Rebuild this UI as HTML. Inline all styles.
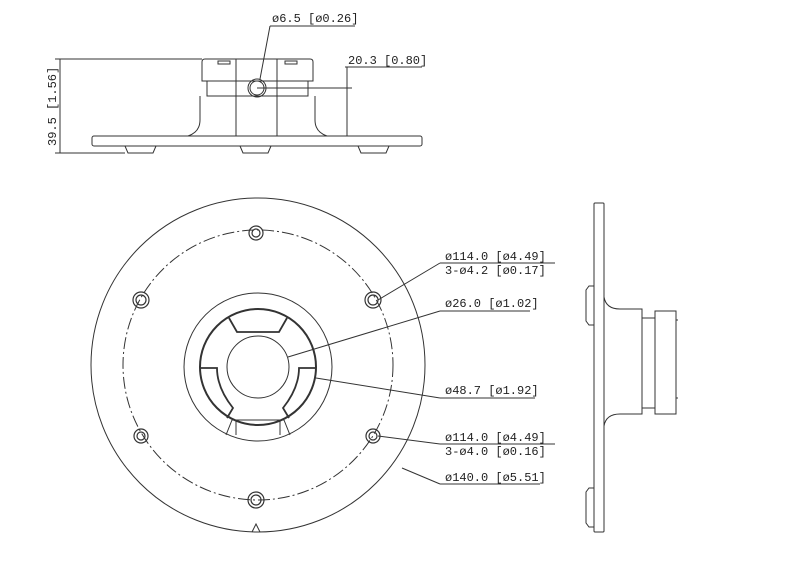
<!DOCTYPE html><html><head><style>body{margin:0;background:#fff}svg text{font-family:"Liberation Mono",monospace;font-size:12px;fill:#222}</style></head><body>
<svg width="787" height="579" viewBox="0 0 787 579" fill="none" stroke="#333" stroke-width="1">
<!-- top view -->
<line x1="55" y1="59" x2="202" y2="59"/><line x1="55" y1="153" x2="125" y2="153"/>
<line x1="60" y1="59" x2="60" y2="153"/>
<text transform="translate(56,146) rotate(-90)" stroke="none">39.5 [1.56]</text>
<rect x="92" y="136" width="330" height="10" rx="2"/>
<path d="M125 146 l3 7 h25 l3 -7 M240 146 l3 7 h25 l3 -7 M358 146 l3 7 h25 l3 -7"/>
<path d="M202 81 V62 q0 -3 3 -3 h105 q3 0 3 3 V81 Z"/>
<path d="M207 81 V96 H308 V81"/>
<path d="M200 96 V120 q0 12 -12 16 M315 96 V120 q0 12 12 16"/>
<line x1="236" y1="59" x2="236" y2="136"/><line x1="277" y1="59" x2="277" y2="136"/>
<path d="M218 61 h12 v3 h-12z M285 61 h12 v3 h-12z"/>
<circle cx="257" cy="88" r="9"/><circle cx="257" cy="88" r="7"/>
<text x="272" y="22" stroke="none">ø6.5 [ø0.26]</text>
<path d="M270 26 H355 M270 26 L260 79"/>
<text x="348" y="64" stroke="none">20.3 [0.80]</text>
<path d="M345 67 H422 M347 67 V136 M257 88 H352"/>
<!-- front -->
<circle cx="258" cy="365" r="167"/>
<circle cx="258" cy="365" r="135" stroke-dasharray="12 3 2 3"/>
<g stroke-width="1.2">
<circle cx="256" cy="233" r="7"/><circle cx="256" cy="233" r="4"/>
<circle cx="141" cy="300" r="8"/><circle cx="141" cy="300" r="5"/>
<circle cx="373" cy="300" r="8"/><circle cx="373" cy="300" r="5"/>
<circle cx="141" cy="436" r="7"/><circle cx="141" cy="436" r="4"/>
<circle cx="373" cy="436" r="7"/><circle cx="373" cy="436" r="4"/>
<circle cx="256" cy="500" r="8"/><circle cx="256" cy="500" r="5"/>
</g>
<path d="M252 532 l4 -8 l4 8"/>
<circle cx="258" cy="367" r="74"/>
<circle cx="258" cy="367" r="58" stroke-width="2"/>
<circle cx="258" cy="367" r="31"/>
<path d="M229 318 l8 14 h42 l8 -14" stroke-width="1.8"/>
<path d="M201 368 h16 q0 20 16 40 l-6 10 M315 368 h-16 q0 20 -16 40 l6 10" stroke-width="1.8"/>
<path d="M232 420 l-6 15 M284 420 l6 15 M236 420 v15 M280 420 v15 M232 420 h52"/>
<!-- leaders -->
<text x="445" y="260" stroke="none">ø114.0 [ø4.49]</text>
<text x="445" y="274" stroke="none">3-ø4.2 [ø0.17]</text>
<path d="M440 263 H555 M378 300 L440 263"/>
<text x="445" y="307" stroke="none">ø26.0 [ø1.02]</text>
<path d="M440 311 H530 M288 357 L440 311"/>
<text x="445" y="394" stroke="none">ø48.7 [ø1.92]</text>
<path d="M440 398 H535 M316 378 L440 398"/>
<text x="445" y="441" stroke="none">ø114.0 [ø4.49]</text>
<text x="445" y="455" stroke="none">3-ø4.0 [ø0.16]</text>
<path d="M440 444 H555 M378 436 L440 444"/>
<text x="445" y="481" stroke="none">ø140.0 [ø5.51]</text>
<path d="M440 484 H540 M402 468 L440 484"/>
<!-- side -->
<rect x="594" y="203" width="10" height="329" rx="1"/>
<path d="M594 286 h-5 l-3 4 v31 l3 4 h5 M594 488 h-5 l-3 4 v31 l3 4 h5"/>
<path d="M604 297 q2 12 16 12 h22 v105 h-22 q-14 0 -16 12"/>
<path d="M642 318 h13 v90 h-13 M655 311 h21 v103 h-21z M676 320 h2 M676 398 h2"/>
</svg></body></html>
